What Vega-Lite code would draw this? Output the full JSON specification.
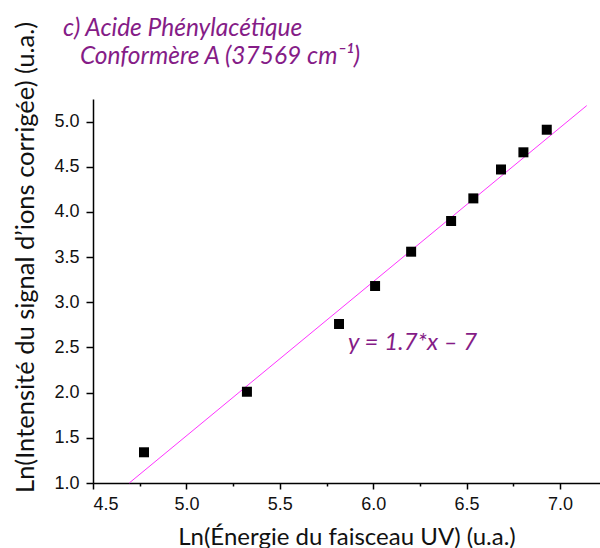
{
  "$schema": "https://vega.github.io/schema/vega-lite/v6.json",
  "width": 507,
  "height": 384,
  "autosize": {"type": "none"},
  "padding": {"left": 93, "top": 99, "right": 0, "bottom": 65},
  "background": "white",
  "title": {
    "text": ["c) Acide Phénylacétique", "\u200b\u2002\u2005Conformère A (37569 cm⁻¹)"],
    "anchor": "start",
    "frame": "group",
    "dx": -30,
    "font": "Lato",
    "fontStyle": "italic",
    "fontWeight": "normal",
    "fontSize": 24.5,
    "color": "#851c87",
    "lineHeight": 28,
    "baseline": "alphabetic",
    "offset": -67
  },
  "config": {
    "view": {"stroke": null},
    "axis": {
      "grid": false,
      "domainColor": "#000000",
      "domainWidth": 1.5,
      "tickColor": "#000000",
      "tickWidth": 1.5,
      "labelFont": "Liberation Sans",
      "labelFontSize": 18,
      "labelColor": "#111111",
      "titleFont": "Lato",
      "titleFontWeight": "normal",
      "titleColor": "#111111"
    }
  },
  "layer": [
    {
      "data": {"values": [
        {"x": 4.694, "y": 1.0},
        {"x": 7.143, "y": 5.177}
      ]},
      "mark": {"type": "line", "color": "#ff33ff", "strokeWidth": 1},
      "encoding": {
        "x": {
          "field": "x", "type": "quantitative",
          "scale": {"domain": [4.5, 7.214], "nice": false, "zero": false},
          "axis": {
            "title": "Ln(Énergie du faisceau UV) (u.a.)",
            "titleFontSize": 24,
            "values": [4.5, 4.75, 5.0, 5.25, 5.5, 5.75, 6.0, 6.25, 6.5, 6.75, 7.0],
            "labelExpr": "datum.value % 0.5 == 0 ? format(datum.value, '.1f') : ''",
            "tickSize": {"condition": {"test": "datum.value % 0.5 != 0", "value": 3}, "value": 6},
            "labelPadding": 6,
            "titleY": 61,
            "titleBaseline": "alphabetic"
          }
        },
        "y": {
          "field": "y", "type": "quantitative",
          "scale": {"domain": [1.0, 5.25], "nice": false, "zero": false},
          "axis": {
            "title": "Ln(Intensité du signal d’ions corrigée) (u.a.)",
            "titleFontSize": 25.5,
            "values": [1.0, 1.25, 1.5, 1.75, 2.0, 2.25, 2.5, 2.75, 3.0, 3.25, 3.5, 3.75, 4.0, 4.25, 4.5, 4.75, 5.0, 5.25],
            "labelExpr": "datum.value % 0.5 == 0 ? format(datum.value, '.1f') : ''",
            "tickSize": {"condition": {"test": "datum.value % 0.5 != 0", "value": 4}, "value": 7},
            "labelPadding": 7,
            "titleAngle": 270,
            "titleX": -68,
            "titleY": 158,
            "titleAlign": "center",
            "titleBaseline": "middle"
          }
        }
      }
    },
    {
      "data": {"values": [
        {"x": 4.773, "y": 1.34},
        {"x": 5.324, "y": 2.01},
        {"x": 5.817, "y": 2.76},
        {"x": 6.01, "y": 3.18},
        {"x": 6.203, "y": 3.56},
        {"x": 6.417, "y": 3.90},
        {"x": 6.536, "y": 4.15},
        {"x": 6.684, "y": 4.47},
        {"x": 6.804, "y": 4.66},
        {"x": 6.929, "y": 4.91}
      ]},
      "mark": {"type": "point", "shape": "square", "filled": true, "color": "#000000", "size": 100, "opacity": 1},
      "encoding": {
        "x": {"field": "x", "type": "quantitative"},
        "y": {"field": "y", "type": "quantitative"}
      }
    },
    {
      "data": {"values": [
        {"x": 5.865, "y": 2.55, "label": "y = 1.7*x – 7"}
      ]},
      "mark": {"type": "text", "align": "left", "baseline": "middle", "font": "Lato", "fontStyle": "italic", "fontSize": 24, "color": "#851c87"},
      "encoding": {
        "x": {"field": "x", "type": "quantitative"},
        "y": {"field": "y", "type": "quantitative"},
        "text": {"field": "label"}
      }
    }
  ]
}
